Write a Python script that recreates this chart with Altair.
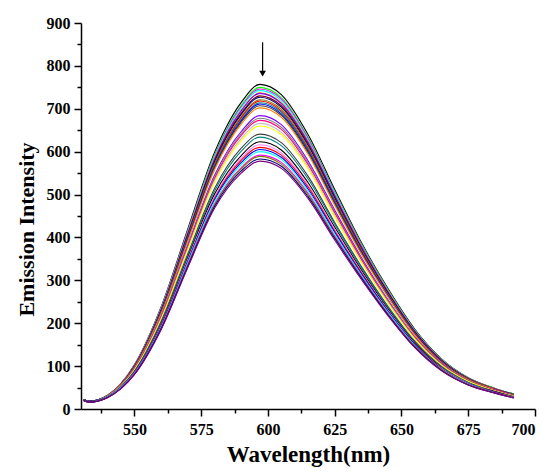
import altair as alt
import pandas as pd

wavelengths = [531, 533, 540, 550, 560, 570, 580, 590, 597, 605, 615, 625, 635, 645, 655, 665, 675, 685, 692]

c01 = [22, 18, 32, 103, 238, 420, 598, 715, 757, 733, 640, 512, 388, 280, 186, 117, 73, 48, 35]
c02 = [22, 18, 32, 102, 236, 416, 593, 708, 750, 726, 634, 507, 385, 278, 184, 116, 72, 48, 35]
c03 = [22, 18, 32, 102, 235, 415, 590, 705, 746, 723, 631, 505, 383, 276, 183, 115, 72, 47, 34]
c04 = [22, 18, 32, 101, 234, 413, 588, 702, 743, 719, 628, 503, 381, 275, 183, 115, 72, 47, 34]
c05 = [22, 18, 32, 101, 232, 410, 584, 697, 737, 714, 624, 499, 379, 273, 181, 114, 71, 47, 34]
c06 = [22, 18, 31, 100, 232, 409, 582, 695, 736, 712, 622, 498, 378, 272, 181, 114, 71, 47, 34]
c07 = [22, 18, 31, 100, 230, 407, 579, 690, 730, 707, 618, 494, 375, 271, 180, 113, 71, 46, 34]
c08 = [22, 18, 31, 99, 229, 405, 576, 687, 727, 704, 615, 492, 373, 269, 179, 112, 70, 46, 34]
c09 = [22, 18, 31, 98, 227, 402, 572, 682, 721, 699, 610, 488, 371, 267, 177, 111, 70, 46, 33]
c10 = [22, 18, 31, 98, 226, 400, 569, 679, 718, 695, 607, 486, 369, 266, 177, 111, 69, 46, 33]
c11 = [22, 18, 31, 98, 225, 398, 567, 675, 714, 692, 604, 484, 367, 265, 176, 110, 69, 45, 33]
c12 = [22, 18, 31, 97, 224, 397, 564, 672, 711, 688, 601, 481, 366, 264, 175, 110, 69, 45, 33]
c13 = [21, 17, 31, 97, 223, 395, 562, 669, 707, 685, 598, 479, 364, 262, 174, 109, 68, 45, 33]
c14 = [21, 17, 31, 96, 222, 392, 558, 664, 702, 680, 594, 475, 361, 261, 173, 108, 68, 45, 32]
c15 = [21, 17, 30, 94, 216, 383, 545, 647, 684, 663, 579, 464, 353, 254, 168, 106, 66, 44, 31]
c16 = [21, 17, 30, 93, 215, 380, 541, 642, 678, 657, 574, 460, 350, 252, 167, 105, 66, 43, 31]
c17 = [21, 17, 30, 92, 213, 378, 537, 638, 673, 652, 570, 457, 348, 250, 166, 104, 65, 43, 31]
c18 = [21, 17, 30, 91, 211, 374, 532, 631, 666, 645, 564, 452, 344, 248, 164, 103, 64, 42, 30]
c19 = [21, 17, 29, 91, 209, 371, 528, 626, 660, 640, 560, 448, 342, 246, 163, 102, 64, 42, 30]
c20 = [21, 17, 29, 88, 204, 362, 514, 608, 641, 621, 543, 435, 332, 239, 158, 99, 62, 41, 29]
c21 = [21, 17, 29, 87, 201, 358, 508, 601, 634, 614, 537, 431, 329, 237, 156, 98, 61, 40, 29]
c22 = [21, 17, 28, 86, 198, 353, 501, 591, 623, 604, 528, 424, 324, 233, 154, 96, 60, 40, 28]
c23 = [20, 16, 28, 85, 196, 349, 495, 585, 616, 597, 522, 419, 320, 230, 152, 95, 60, 39, 28]
c24 = [20, 16, 28, 84, 195, 346, 491, 580, 610, 592, 518, 415, 318, 228, 151, 94, 59, 39, 28]
c25 = [20, 16, 28, 84, 193, 344, 488, 575, 605, 587, 513, 412, 315, 227, 150, 93, 59, 39, 27]
c26 = [20, 16, 28, 83, 191, 341, 484, 570, 600, 582, 509, 408, 312, 225, 148, 92, 58, 38, 27]
c27 = [20, 16, 27, 82, 189, 337, 478, 563, 592, 575, 503, 403, 309, 222, 146, 91, 57, 38, 27]
c28 = [20, 16, 27, 81, 188, 335, 476, 560, 589, 571, 500, 401, 307, 221, 146, 91, 57, 38, 27]
c29 = [20, 16, 27, 81, 187, 333, 472, 555, 583, 566, 495, 398, 305, 219, 144, 90, 56, 37, 26]
c30 = [20, 16, 27, 80, 185, 330, 468, 550, 578, 561, 491, 394, 302, 217, 143, 89, 56, 37, 26]

curves = [c01, c02, c03, c04, c05, c06, c07, c08, c09, c10, c11, c12, c13, c14, c15,
          c16, c17, c18, c19, c20, c21, c22, c23, c24, c25, c26, c27, c28, c29, c30]

colors = ["#000000", "#00FF00", "#FF00FF", "#00FFFF", "#FF8000", "#8000FF", "#800000",
          "#000080", "#808000", "#FF0000", "#008080", "#0000FF", "#404040", "#FF8000",
          "#8000FF", "#808080", "#FF0080", "#C0C0C0", "#FFFF00", "#404040", "#008080",
          "#000000", "#FF80FF", "#FF0000", "#0000FF", "#00FFFF", "#FF00FF", "#808000",
          "#000080", "#800080"]

x_major = [550, 575, 600, 625, 650, 675, 700]
x_minor = [537.5, 562.5, 587.5, 612.5, 637.5, 662.5, 687.5]
y_major = [0, 100, 200, 300, 400, 500, 600, 700, 800, 900]
y_minor = [50, 150, 250, 350, 450, 550, 650, 750, 850]

arrow_x = [598]
arrow_y_top = [855]
arrow_y_tip = [782]

rows = []
names = []
for i, c in enumerate(curves):
    name = f"c{i+1:02d}"
    names.append(name)
    for w, v in zip(wavelengths, c):
        rows.append({"wl": w, "val": v, "curve": name, "ord": i})
df = pd.DataFrame(rows)

FONT = "Liberation Serif"
xs = alt.Scale(domain=[530, 700], nice=False, zero=False)
ys = alt.Scale(domain=[0, 900], nice=False)

lines = alt.Chart(df).mark_line(strokeWidth=1.1, interpolate="monotone").encode(
    x=alt.X("wl:Q", scale=xs, axis=alt.Axis(
        values=x_major, orient="bottom", title="Wavelength(nm)", tickSize=7, tickWidth=1.5,
        domainWidth=1.5, labelPadding=5, titlePadding=6, labelFontSize=16, titleFontSize=23)),
    y=alt.Y("val:Q", scale=ys, axis=alt.Axis(
        values=y_major, orient="left", title="Emission Intensity", tickSize=7, tickWidth=1.5,
        domainWidth=1.5, labelPadding=4, titlePadding=8, labelFontSize=16, titleFontSize=22,
        titleY=206)),
    color=alt.Color("curve:N", scale=alt.Scale(domain=names, range=colors), legend=None),
    order=alt.Order("ord:Q", sort="descending"),
)

arrow_df = pd.DataFrame({"ax": arrow_x, "ay": arrow_y_top, "ay2": arrow_y_tip})

minor = alt.Chart(arrow_df).mark_rule(color="black", strokeWidth=1.2).encode(
    x=alt.X("ax:Q", scale=xs, axis=alt.Axis(
        values=x_minor, orient="bottom", title=None, labels=False, domain=False,
        tickSize=4, tickWidth=1.5)),
    y=alt.Y("ay:Q", scale=ys, axis=alt.Axis(
        values=y_minor, orient="left", title=None, labels=False, domain=False,
        tickSize=4, tickWidth=1.5)),
    y2="ay2:Q",
)

head = alt.Chart(arrow_df).mark_point(shape="triangle-down", filled=True, color="black",
                                      size=45, opacity=1).encode(
    x=alt.X("ax:Q", scale=xs, axis=None),
    y=alt.Y("ay2:Q", scale=ys, axis=None),
)

chart = alt.layer(lines, minor, head).resolve_axis(x="independent", y="independent").properties(
    width=454, height=386,
    autosize=alt.AutoSizeParams(type="none"),
    padding={"left": 73, "top": 15, "right": 10, "bottom": 60},
    background="white",
).configure_axis(
    grid=False, domainColor="black", tickColor="black", labelColor="black", titleColor="black",
    labelFont=FONT, titleFont=FONT, labelFontWeight="bold", titleFontWeight="bold",
).configure_view(stroke=None)

chart.save("out.html", embed_options={"renderer": "svg", "actions": False})
